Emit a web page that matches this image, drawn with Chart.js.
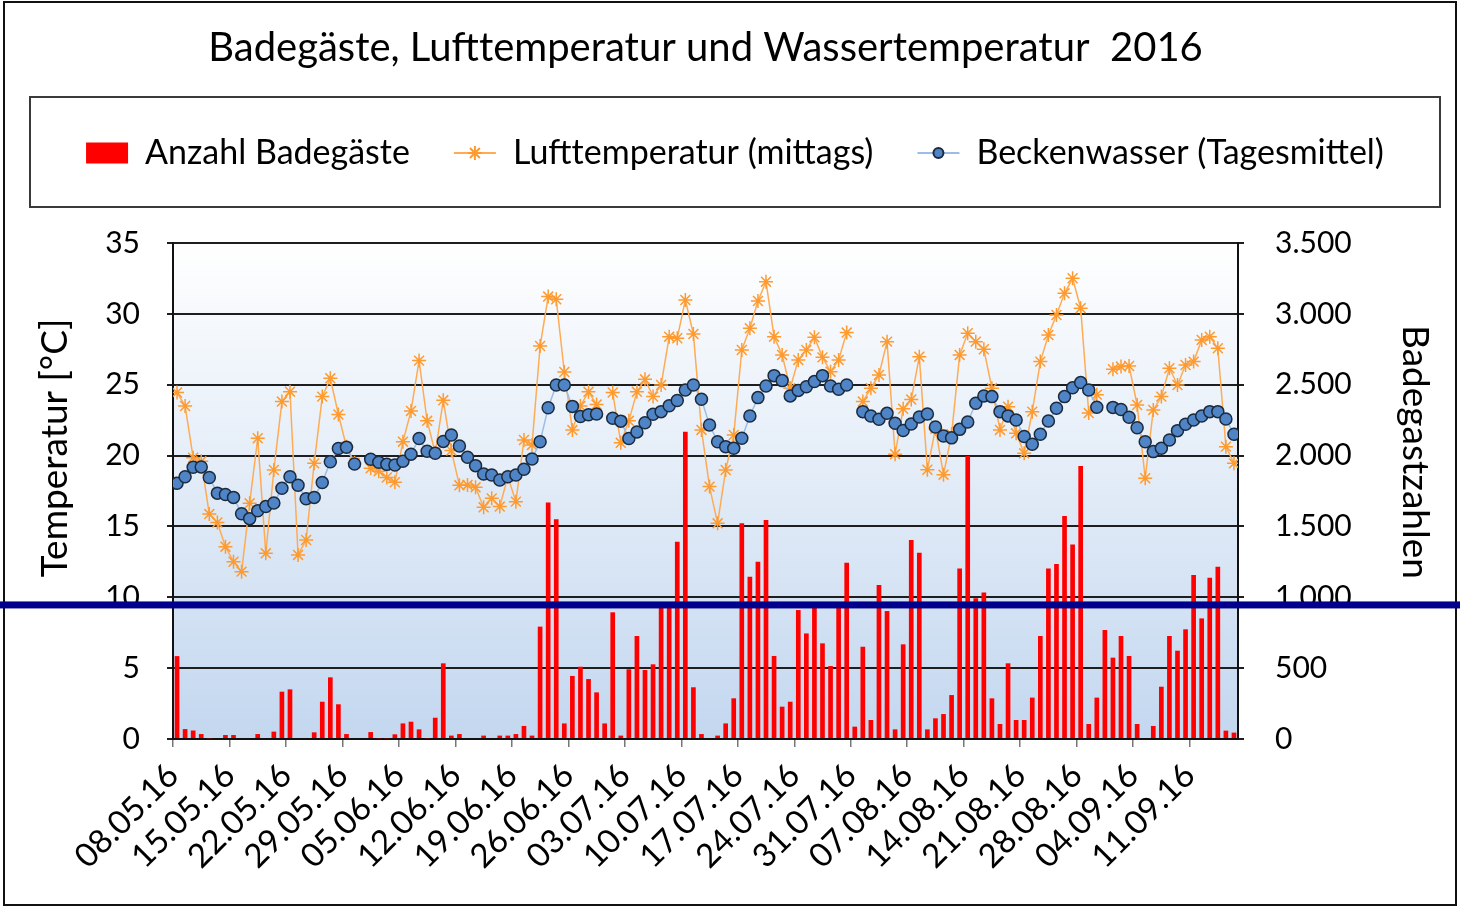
<!DOCTYPE html>
<html lang="de">
<head>
<meta charset="utf-8">
<title>Badegäste, Lufttemperatur und Wassertemperatur 2016</title>
<script src="https://cdn.jsdelivr.net/npm/chart.js@4.4.1/dist/chart.umd.min.js"></script>
<style>
  html, body { margin: 0; padding: 0; background: #fff; }
  canvas { display: block; }
</style>
</head>
<body>
<canvas id="chart" width="1460" height="908"></canvas>
<script>
// weekly tick labels (every 7th day, first day 08.05.16)
const weekLabels = ['08.05.16', '15.05.16', '22.05.16', '29.05.16', '05.06.16', '12.06.16', '19.06.16',
  '26.06.16', '03.07.16', '10.07.16', '17.07.16', '24.07.16', '31.07.16', '07.08.16', '14.08.16',
  '21.08.16', '28.08.16', '04.09.16', '11.09.16'];

// daily values 08.05.16 - 16.09.16, one row per week
const visitors = [
  585, 70, 60, 35, 5, 0, 28,
  28, 0, 0, 35, 0, 52, 334,
  350, 0, 0, 47, 263, 435, 245,
  35, 0, 0, 49, 5, 5, 33,
  110, 122, 68, 5, 150, 534, 24,
  35, 0, 0, 24, 0, 24, 24,
  35, 92, 24, 793, 1668, 1550, 110,
  445, 510, 423, 329, 110, 894, 24,
  492, 727, 487, 527, 940, 950, 1392,
  2168, 365, 35, 0, 24, 110, 287,
  1522, 1145, 1251, 1545, 586, 228, 263,
  910, 745, 940, 675, 515, 940, 1244,
  87, 651, 134, 1087, 903, 68, 668,
  1404, 1315, 68, 146, 176, 310, 1204,
  1997, 993, 1033, 287, 106, 534, 134,
  134, 292, 727, 1204, 1235, 1573, 1373,
  1926, 106, 292, 769, 574, 727, 586,
  106, 0, 92, 369, 727, 623, 774,
  1157, 851, 1138, 1216, 59, 45
];

const airTemp = [
  24.45, 23.5, 19.85, 19.6, 15.87, 15.28, 13.57,
  12.51, 11.81, 16.63, 21.22, 13.1, 18.98, 23.81,
  24.51, 12.99, 14.04, 19.45, 24.16, 25.45, 22.9,
  20.63, 19.5, null, 19.1, 18.9, 18.45, 18.12,
  20.98, 23.15, 26.7, 22.45, 20.2, 23.9, 20.35,
  17.9, 17.93, 17.76, 16.35, 16.98, 16.4, 18.51,
  16.75, 21.1, 20.75, 27.73, 31.22, 31.03, 25.9,
  21.8, 23.5, 24.5, 23.6, null, 24.45, 20.9,
  22.45, 24.5, 25.38, 24.16, 24.98, 28.39, 28.28,
  30.98, 28.58, 21.81, 17.81, 15.22, 18.98, 21.45,
  27.45, 28.98, 30.91, 32.27, 28.39, 27.1, 24.75,
  26.75, 27.45, 28.35, 26.93, 25.92, 26.75, 28.68,
  null, 23.81, 24.75, 25.69, 28.04, 20.1, 23.3,
  23.95, 26.98, 19.0, 21.9, 18.65, 21.5, 27.1,
  28.63, 28.04, 27.5, 24.75, 21.81, 23.45, 21.57,
  20.16, 23.1, 26.63, 28.51, 29.92, 31.45, 32.51,
  30.4, 23.0, 24.3, null, 26.09, 26.28, 26.32,
  23.57, 18.4, 23.22, 24.16, 26.16, 24.98, 26.39,
  26.63, 28.16, 28.39, 27.57, 20.63, 19.45
];

const waterTemp = [
  18.04, 18.5, 19.17, 19.2, 18.45, 17.35, 17.25,
  17.05, 15.9, 15.55, 16.1, 16.4, 16.65, 17.7,
  18.5, 17.9, 16.95, 17.05, 18.1, 19.57, 20.5,
  20.58, 19.41, null, 19.74, 19.53, 19.38, 19.34,
  19.6, 20.1, 21.2, 20.3, 20.16, 21.0, 21.45,
  20.68, 19.88, 19.29, 18.7, 18.63, 18.28, 18.51,
  18.63, 19.03, 19.76, 20.98, 23.38, 24.98, 24.98,
  23.47, 22.75, 22.88, 22.93, null, 22.63, 22.43,
  21.2, 21.67, 22.32, 22.91, 23.1, 23.52, 23.88,
  24.63, 24.98, 23.97, 22.16, 20.98, 20.63, 20.51,
  21.22, 22.79, 24.09, 24.91, 25.64, 25.29, 24.21,
  24.6, 24.86, 25.22, 25.64, 24.91, 24.68, 24.98,
  null, 23.1, 22.79, 22.56, 22.98, 22.28, 21.77,
  22.23, 22.72, 22.93, 22.02, 21.38, 21.25, 21.85,
  22.37, 23.69, 24.21, 24.16, 23.1, 22.8, 22.51,
  21.34, 20.8, 21.5, 22.44, 23.34, 24.16, 24.79,
  25.15, 24.63, 23.41, null, 23.4, 23.25, 22.7,
  21.96, 20.98, 20.28, 20.51, 21.1, 21.76, 22.21,
  22.51, 22.79, 23.1, 23.1, 22.58, 21.5
];

const leftTitle = 'Temperatur [°C]';
const rightTitle = 'Badegastzahlen';

// dark scan stripe that runs across the original picture (in °C of the left axis)
const stripeAt = 9.46;

const FONT = 'Lato, "Open Sans", sans-serif';

// each day sits in the middle of its slot on the date axis
const toPoints = (values) => values.map((v, i) => ({ x: i + 0.5, y: v }));

const germanNumber = (v) => String(v).replace(/\B(?=(\d{3})+(?!\d))/g, '.');

function axisTitle(ctx, text, x, y, rotation) {
  ctx.save();
  ctx.translate(x, y);
  ctx.rotate(rotation);
  ctx.font = '37px ' + FONT;
  ctx.fillStyle = '#000';
  ctx.textAlign = 'center';
  ctx.textBaseline = 'middle';
  ctx.fillText(text, 0, 0);
  ctx.restore();
}

const decorations = {
  id: 'decorations',
  beforeDraw(chart) {
    const { ctx, chartArea: a } = chart;
    ctx.save();
    ctx.fillStyle = '#ffffff';
    ctx.fillRect(0, 0, chart.width, chart.height);
    const g = ctx.createLinearGradient(0, a.top, 0, a.bottom);
    g.addColorStop(0, '#ffffff');
    g.addColorStop(1, '#c3d7ef');
    ctx.fillStyle = g;
    ctx.fillRect(a.left, a.top, a.right - a.left, a.bottom - a.top);
    ctx.restore();
  },
  afterDraw(chart) {
    const { ctx, legend, chartArea: a } = chart;
    ctx.save();

    // axis titles, sitting a little above the middle as in the original
    const midY = (a.top + a.bottom) / 2 - 43;
    axisTitle(ctx, leftTitle, chart.scales.yLeft.left + 25, midY, -Math.PI / 2);
    axisTitle(ctx, rightTitle, chart.scales.yRight.right - 25, midY + 4, Math.PI / 2);

    // legend frame
    const first = legend.legendHitBoxes[0];
    const mid = first.top + first.height / 2;
    ctx.strokeStyle = '#3a3a3a';
    ctx.lineWidth = 2;
    ctx.strokeRect(legend.left, mid - 56, legend.right - legend.left, 110);

    // line samples for the two line series
    legend.legendItems.forEach((item, n) => {
      const ds = chart.data.datasets[item.datasetIndex];
      if (ds.type !== 'line') return;
      const hb = legend.legendHitBoxes[n];
      const y = hb.top + hb.height / 2;
      const x0 = hb.left;
      const x1 = hb.left + legend.options.labels.boxWidth;
      ctx.strokeStyle = ds.borderColor;
      ctx.lineWidth = 2;
      ctx.beginPath();
      ctx.moveTo(x0, y);
      ctx.lineTo(x1, y);
      ctx.stroke();
      ctx.fillStyle = ds.pointBackgroundColor;
      ctx.strokeStyle = ds.pointBorderColor;
      Chart.helpers.drawPoint(ctx, {
        pointStyle: ds.pointStyle,
        radius: ds.pointStyle === 'circle' ? 5 : 7,
        borderWidth: ds.pointBorderWidth,
        rotation: 0
      }, (x0 + x1) / 2, y);
    });

    // outer frame
    ctx.strokeStyle = '#111';
    ctx.lineWidth = 2;
    ctx.strokeRect(4, 2, chart.width - 8, chart.height - 5);

    // scan stripe
    const ys = chart.scales.yLeft.getPixelForValue(stripeAt);
    ctx.fillStyle = '#00008c';
    ctx.fillRect(0, ys - 3.5, chart.width, 7);
    ctx.restore();
  }
};

new Chart(document.getElementById('chart'), {
  type: 'bar',
  data: {
    datasets: [
      {
        label: 'Anzahl Badegäste',
        data: toPoints(visitors),
        yAxisID: 'yRight',
        backgroundColor: '#ff0000',
        borderWidth: 0,
        barPercentage: 0.58,
        categoryPercentage: 1,
        grouped: false,
        order: 3
      },
      {
        type: 'line',
        label: 'Lufttemperatur (mittags)',
        data: toPoints(airTemp),
        yAxisID: 'yLeft',
        borderColor: '#ffab55',
        borderWidth: 1.5,
        pointStyle: 'star',
        pointRadius: 7,
        pointBorderWidth: 1.5,
        pointBackgroundColor: '#ff9a2e',
        pointBorderColor: '#ff9a2e',
        spanGaps: false,
        order: 2
      },
      {
        type: 'line',
        label: 'Beckenwasser (Tagesmittel)',
        data: toPoints(waterTemp),
        yAxisID: 'yLeft',
        borderColor: '#9dbde6',
        borderWidth: 1.5,
        pointStyle: 'circle',
        pointRadius: 6,
        pointBorderWidth: 1.5,
        pointBackgroundColor: '#4f85c6',
        pointBorderColor: '#1b2a3d',
        spanGaps: false,
        order: 1
      }
    ]
  },
  options: {
    responsive: false,
    animation: false,
    devicePixelRatio: 1,
    layout: { padding: { top: 5, left: 30, right: 20, bottom: 9 } },
    plugins: {
      tooltip: { enabled: false },
      title: {
        display: true,
        fullSize: false,
        text: 'Badegäste, Lufttemperatur und Wassertemperatur  2016',
        color: '#000',
        font: { family: FONT, size: 40, weight: 'normal' },
        padding: { top: 19, bottom: 20 }
      },
      legend: {
        display: true,
        position: 'top',
        labels: {
          color: '#000',
          font: { family: FONT, size: 34 },
          boxWidth: 42,
          boxHeight: 21,
          padding: 44,
          sort: (a, b) => a.datasetIndex - b.datasetIndex,
          generateLabels(chart) {
            const items = Chart.defaults.plugins.legend.labels.generateLabels(chart);
            items.forEach((item) => {
              if (chart.data.datasets[item.datasetIndex].type === 'line') {
                item.fillStyle = 'rgba(0,0,0,0)';
                item.strokeStyle = 'rgba(0,0,0,0)';
                item.lineWidth = 0;
              }
            });
            return items;
          }
        }
      },
      // empty spacer between legend and plot
      subtitle: {
        display: true,
        text: '',
        weight: 500,
        font: { size: 10 },
        padding: { top: 0, bottom: 51 }
      }
    },
    scales: {
      x: {
        type: 'linear',
        min: 0,
        max: 132,
        offset: false,
        afterFit(scale) { scale.height = 160; },
        grid: { display: true, offset: false, drawOnChartArea: false, drawTicks: true, tickLength: 8, color: '#777', lineWidth: 1.5 },
        border: { display: true, color: '#111', width: 2 },
        ticks: {
          stepSize: 7,
          includeBounds: false,
          autoSkip: false,
          minRotation: 45,
          maxRotation: 45,
          padding: 9,
          color: '#000',
          font: { family: FONT, size: 33 },
          callback: (v) => weekLabels[v / 7]
        }
      },
      yLeft: {
        type: 'linear',
        position: 'left',
        min: 0,
        max: 35,
        afterFit(scale) { scale.width = 143; },
        grid: { color: '#1e1e1e', lineWidth: 2, tickLength: 6 },
        border: { display: true, color: '#111', width: 2 },
        ticks: { stepSize: 5, padding: 27, color: '#000', font: { family: FONT, size: 30 } }
      },
      yRight: {
        type: 'linear',
        position: 'right',
        min: 0,
        max: 3500,
        afterFit(scale) { scale.width = 202; },
        grid: { drawOnChartArea: false, color: '#1e1e1e', lineWidth: 2, tickLength: 6 },
        border: { display: true, color: '#111', width: 2 },
        ticks: { stepSize: 500, padding: 31, color: '#000', font: { family: FONT, size: 30 }, callback: germanNumber }
      }
    }
  },
  plugins: [decorations]
});
</script>
</body>
</html>
